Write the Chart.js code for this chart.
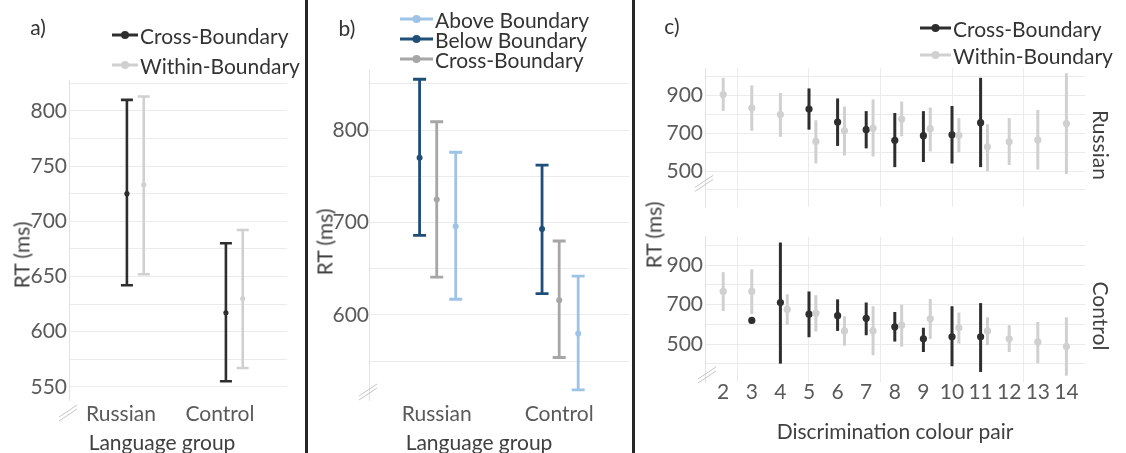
<!DOCTYPE html>
<html>
<head>
<meta charset="utf-8">
<script src="https://cdn.jsdelivr.net/npm/chart.js@4.4.1/dist/chart.umd.min.js"></script>
<style>
  body { margin: 0; background: #fff; }
  #fig { position: relative; width: 1126px; height: 453px; overflow: hidden; font-family: Lato, "Open Sans", sans-serif; }
  #fig canvas { position: absolute; }
  .lbl { position: absolute; white-space: nowrap; line-height: 1; color: #404040; font-size: 21px; transform: translate(-50%, -50%); }
  .up { transform: translate(-50%, -50%) rotate(-90deg); }
  .down { transform: translate(-50%, -50%) rotate(90deg); }
  .sep { position: absolute; top: 0; width: 3px; height: 453px; background: #262626; }
  .leg { position: absolute; display: flex; align-items: center; height: 22px; font-size: 21px; line-height: 1; color: #333; white-space: nowrap; }
  .leg svg { margin-right: 2px; }
</style>
</head>
<body>
<div id="fig">
  <canvas id="pa" width="300" height="453" style="left:0;top:0"></canvas>
  <canvas id="pb" width="325" height="453" style="left:308px;top:0"></canvas>
  <canvas id="pcRu" width="454" height="222" style="left:636px;top:0"></canvas>
  <canvas id="pcCo" width="454" height="231" style="left:636px;top:222px"></canvas>

  <div class="sep" style="left:305px"></div>
  <div class="sep" style="left:632px"></div>

  <div class="lbl" style="left:38px;top:26px;color:#333">a)</div>
  <div class="lbl" style="left:347px;top:27px;color:#333">b)</div>
  <div class="lbl" style="left:672px;top:25px;color:#333">c)</div>

  <div class="lbl up" style="left:21px;top:255px">RT (ms)</div>
  <div class="lbl up" style="left:324px;top:242px">RT (ms)</div>
  <div class="lbl up" style="left:653px;top:235px">RT (ms)</div>

  <div class="lbl" style="left:162px;top:441px">Language group</div>
  <div class="lbl" style="left:479px;top:441px">Language group</div>
  <div class="lbl" style="left:895px;top:430px">Discrimination colour pair</div>

  <div class="lbl down" style="left:1101px;top:145px">Russian</div>
  <div class="lbl down" style="left:1101px;top:316px">Control</div>
</div>
<script>
Chart.defaults.font.family = 'Lato, "Open Sans", sans-serif';
Chart.defaults.font.size = 21;
Chart.defaults.color = '#5a5a5a';

// ---- data ----
const groups = ['Russian', 'Control'];

// a) cross vs within boundary
const aCrossMean  = [725, 617];
const aCrossLo    = [642, 555];
const aCrossHi    = [810, 680];
const aWithinMean = [733, 630];
const aWithinLo   = [652, 567];
const aWithinHi   = [813, 692];
const aYLabels = [550, 600, 650, 700, 750, 800];

// b) above / below / cross boundary
const bBelowMean = [770, 693];
const bBelowLo   = [686, 623];
const bBelowHi   = [855, 762];
const bCrossMean = [725, 616];
const bCrossLo   = [641, 554];
const bCrossHi   = [809, 680];
const bAboveMean = [696, 580];
const bAboveLo   = [617, 519];
const bAboveHi   = [776, 642];
const bYLabels = [600, 700, 800];

// c) per colour pair
const pairs = [2, 3, 4, 5, 6, 7, 8, 9, 10, 11, 12, 13, 14];
const ruWithinMean = [905, 833, 799, 657, 713, 727, 775, 724, 689, 628, 655, 665, 751];
const ruWithinLo   = [818, 713, 681, 540, 583, 577, 684, 604, 599, 500, 532, 508, 484];
const ruWithinHi   = [993, 953, 913, 769, 841, 879, 868, 836, 780, 748, 780, 823, 1017];
const ruCrossMean  = [null, null, null, 828, 759, 719, 663, 687, 692, 756, null, null, null];
const ruCrossLo    = [null, null, null, 719, 633, 620, 521, 548, 540, 521, null, null, null];
const ruCrossHi    = [null, null, null, 937, 884, 817, 807, 817, 844, 993, null, null, null];
const coWithinMean = [767, 767, 676, 657, 567, 567, 596, 628, 583, 567, 527, 511, 488];
const coWithinLo   = [668, 652, 599, 564, 492, 444, 487, 527, 503, 495, 460, 404, 340];
const coWithinHi   = [865, 879, 753, 748, 641, 692, 700, 729, 660, 636, 596, 612, 636];
const coCrossMean  = [null, 620, 711, 652, 644, 631, 588, 527, 537, 537, null, null, null];
const coCrossLo    = [null, null, 401, 535, 567, 545, 513, 460, 388, 359, null, null, null];
const coCrossHi    = [null, null, 1015, 767, 727, 711, 663, 583, 692, 708, null, null, null];
const cYLabels = [500, 700, 900];

// ---- styles ----
const GRID = '#ebebeb';
const DARK = '#2e2e2e', LIGHT = '#d0d0d0';
const BLUE_D = '#1f4e79', BLUE_L = '#9dc3e6', GREY = '#a6a6a6';
const C_DODGE = 0.24;

// error bars drawn under the points
const errBars = {
  id: 'errBars',
  beforeDatasetsDraw(chart, args, o) {
    const { ctx, scales: { x, y } } = chart;
    ctx.save();
    ctx.lineWidth = o.width;
    chart.data.datasets.forEach(ds => {
      ctx.strokeStyle = ds.borderColor;
      ds.data.forEach(p => {
        if (p.lo == null) return;
        const px = x.getPixelForValue(p.x);
        const top = y.getPixelForValue(p.hi), bot = y.getPixelForValue(p.lo);
        ctx.beginPath();
        ctx.moveTo(px, top); ctx.lineTo(px, bot);
        if (o.cap) {
          ctx.moveTo(px - o.cap, top); ctx.lineTo(px + o.cap, top);
          ctx.moveTo(px - o.cap, bot); ctx.lineTo(px + o.cap, bot);
        }
        ctx.stroke();
      });
    });
    ctx.restore();
  }
};

// little "//" axis break mark
const axisBreak = {
  id: 'axisBreak',
  afterDraw(chart, args, o) {
    if (o.dy == null) return;
    const { ctx, chartArea: a } = chart;
    const cx = a.left + (o.dx || 0), cy = a.bottom + o.dy;
    ctx.save();
    ctx.strokeStyle = '#c4c4c4';
    ctx.lineWidth = 1;
    [-2, 2].forEach(d => {
      ctx.beginPath();
      ctx.moveTo(cx - 9, cy + 6 + d);
      ctx.lineTo(cx + 9, cy - 6 + d);
      ctx.stroke();
    });
    ctx.restore();
  }
};
Chart.register(errBars, axisBreak);

function series(label, color, xs, mean, lo, hi, r) {
  return {
    label, borderColor: color, backgroundColor: color,
    pointRadius: r, pointBorderWidth: 0,
    data: mean.map((m, i) => m == null ? null : { x: xs[i], y: m, lo: lo[i], hi: hi[i] }).filter(p => p)
  };
}

function yAxis(min, max, step, shown, width, pad) {
  return {
    min, max,
    border: { display: true, color: '#e2e2e2' },
    grid: { color: GRID, drawTicks: false },
    ticks: { stepSize: step, includeBounds: false, autoSkip: false, padding: pad,
             callback: v => shown.includes(v) ? v : '' },
    afterFit: s => { s.width = width; }
  };
}

function groupAxis(min, max, height, pad) {
  return {
    type: 'linear', min, max,
    afterBuildTicks: s => { s.ticks = groups.map((g, i) => ({ value: i + 1 })); },
    ticks: { callback: v => groups[v - 1], padding: pad, autoSkip: false, maxRotation: 0 },
    grid: { display: false },
    border: { display: false },
    afterFit: s => { s.height = height; }
  };
}

function pairAxes(showLabels, height, pad) {
  return {
    x: {
      type: 'linear', min: 1.364, max: 14.65,
      ticks: { display: showLabels, stepSize: 1, includeBounds: false, autoSkip: false, maxRotation: 0, padding: pad },
      grid: { display: false },
      border: { display: false },
      afterFit: s => { s.height = height; }
    },
    x2: {
      type: 'linear', axis: 'x', position: 'bottom', min: 1.364, max: 14.65,
      ticks: { display: false, stepSize: 2.5, includeBounds: false },
      grid: { color: GRID, drawTicks: false },
      border: { display: false },
      afterFit: s => { s.height = 0; }
    }
  };
}

function panel(id, sets, pad, scales, err, brk) {
  return new Chart(document.getElementById(id), {
    type: 'scatter',
    data: { datasets: sets },
    options: {
      responsive: false, animation: false, events: [],
      layout: { padding: pad },
      plugins: { legend: { display: false }, tooltip: { enabled: false }, errBars: err, axisBreak: brk },
      scales
    }
  });
}

// a)
const aX = groups.map((g, i) => i + 1);
const aSets = [
  series('Cross-Boundary', DARK, aX.map(v => v + 0.06), aCrossMean, aCrossLo, aCrossHi, 2.6),
  series('Within-Boundary', LIGHT, aX.map(v => v + 0.23), aWithinMean, aWithinLo, aWithinHi, 2.6)
];
panel('pa', aSets, { top: 80, right: 13, left: 0, bottom: 0 },
  { x: groupAxis(0.475, 2.677, 53, -6), y: yAxis(538, 828, 25, aYLabels, 69, 2) },
  { width: 2.6, cap: 6 }, { dx: -1, dy: 13 });

// b)
const bX = groups.map((g, i) => i + 1);
const bSets = [
  series('Above Boundary', BLUE_L, bX.map(v => v + 0.155), bAboveMean, bAboveLo, bAboveHi, 3),
  series('Below Boundary', BLUE_D, bX.map(v => v - 0.14), bBelowMean, bBelowLo, bBelowHi, 3),
  series('Cross-Boundary', GREY, bX, bCrossMean, bCrossLo, bCrossHi, 3)
];
panel('pb', bSets, { top: 70, right: 3, left: 0, bottom: 0 },
  { x: groupAxis(0.447, 2.57, 53, -6), y: yAxis(508, 865, 50, bYLabels, 61, 0) },
  { width: 2.8, cap: 6.5 }, { dx: -1, dy: -8 });

// c) Russian / Control facets
const ruWithinX = pairs.map((p, i) => p + (ruCrossLo[i] != null ? C_DODGE : 0));
const coWithinX = pairs.map((p, i) => p + (coCrossLo[i] != null ? C_DODGE : 0));
const ruSets = [
  series('Within-Boundary', LIGHT, ruWithinX, ruWithinMean, ruWithinLo, ruWithinHi, 3.6),
  series('Cross-Boundary', DARK, pairs, ruCrossMean, ruCrossLo, ruCrossHi, 3.6)
];
const coSets = [
  series('Within-Boundary', LIGHT, coWithinX, coWithinMean, coWithinLo, coWithinHi, 3.6),
  series('Cross-Boundary', DARK, pairs, coCrossMean, coCrossLo, coCrossHi, 3.6)
];
panel('pcRu', ruSets, { top: 68, right: 5, left: 0, bottom: 0 },
  Object.assign(pairAxes(false, 0, 0), { y: yAxis(308, 1045, 100, cYLabels, 69, 2) }),
  { width: 3 }, { dx: -1, dy: -24 });
panel('pcCo', coSets, { top: 6, right: 5, left: 0, bottom: 0 },
  Object.assign(pairAxes(true, 71, -10), { y: yAxis(308, 1045, 100, cYLabels, 69, 2) }),
  { width: 3 }, { dx: 2, dy: -7 });

// legends, built from the dataset labels/colours
const fig = document.getElementById('fig');
function legend(left, centers, sets, iconW) {
  sets.forEach((ds, i) => {
    const d = document.createElement('div');
    d.className = 'leg';
    d.style.left = left + 'px';
    d.style.top = (centers[i] - 11) + 'px';
    d.innerHTML = `<svg width="${iconW}" height="12"><line x1="0" y1="6" x2="${iconW}" y2="6" stroke="${ds.borderColor}" stroke-width="3"/>` +
      `<circle cx="${iconW / 2}" cy="6" r="4" fill="${ds.borderColor}"/></svg>${ds.label}`;
    fig.appendChild(d);
  });
}
legend(112, [35, 65], aSets, 26);
legend(400, [19, 39, 59], bSets, 33);
legend(920, [28, 55], [ruSets[1], ruSets[0]], 31);
</script>
</body>
</html>
